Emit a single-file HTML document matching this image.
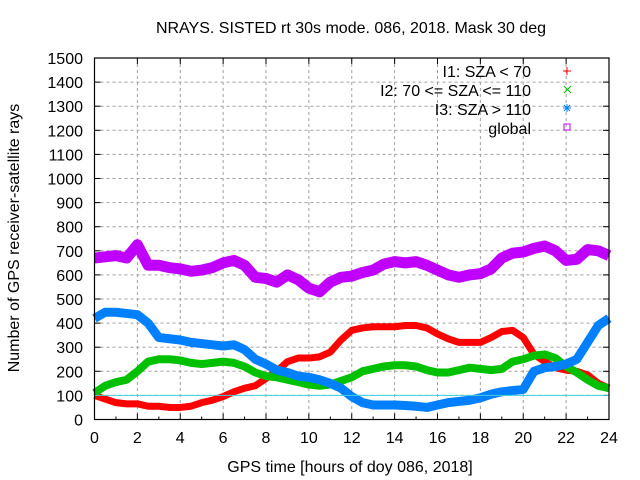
<!DOCTYPE html>
<html><head><meta charset="utf-8"><style>
body{margin:0;background:#fff}
svg{display:block;font-family:"Liberation Sans",sans-serif}
</style></head><body>
<svg id="chart" width="640" height="480">
<text x="351" y="33" text-anchor="middle" font-size="16">NRAYS. SISTED rt 30s mode. 086, 2018. Mask 30 deg</text>
<text x="350" y="472" text-anchor="middle" font-size="16">GPS time [hours of doy 086, 2018]</text>
<text transform="translate(19,238) rotate(-90)" text-anchor="middle" font-size="16">Number of GPS receiver-satellite rays</text>
<g id="plot"></g>
<g font-size="16" text-anchor="end">
<text x="531" y="77">I1: SZA &lt; 70</text>
<text x="531" y="96">I2: 70 &lt;= SZA &lt;= 110</text>
<text x="531" y="115">I3: SZA &gt; 110</text>
<text x="531" y="134">global</text>
<path d="M563,71h8M567,67v8" stroke="#ff0000"/>
<path d="M564,86l7,7M571,86l-7,7" stroke="#00c000"/>
<path d="M563,108h8M567,104v8M564,105l6,6M570,105l-6,6" stroke="#0080ff"/>
<rect x="564" y="124" width="6" height="6" fill="none" stroke="#c000ff"/>
</g>
</svg>
<script>
const hours=[0,0.5,1,1.5,2,2.5,3,3.5,4,4.5,5,5.5,6,6.5,7,7.5,8,8.5,9,9.5,10,10.5,11,11.5,12,12.5,13,13.5,14,14.5,15,15.5,16,16.5,17,17.5,18,18.5,19,19.5,20,20.5,21,21.5,22,22.5,23,23.5,24];
const globalVals=[670,675,680,670,725,640,640,630,625,615,620,630,650,660,640,590,585,570,600,580,545,530,570,590,595,610,620,645,655,650,655,640,620,600,590,600,605,625,670,690,695,710,720,700,660,665,705,700,680];
const i3Vals=[420,445,445,440,435,400,340,335,330,320,315,310,305,310,290,250,230,205,195,180,175,165,150,130,95,70,60,60,60,58,55,50,60,70,75,80,90,105,115,120,125,200,215,220,230,250,320,390,420];
const i2Vals=[110,140,155,165,200,240,250,250,245,235,230,235,240,235,220,195,180,175,165,155,145,140,145,160,175,200,210,220,225,225,220,205,195,195,205,215,210,205,210,240,250,265,270,255,220,195,165,140,130];
const i1Vals=[100,85,70,65,65,55,55,50,50,55,70,80,95,115,130,140,170,200,240,255,255,260,280,330,370,380,385,385,385,390,390,380,355,335,320,320,320,340,365,370,340,270,240,215,205,200,185,150,130];
const xTicks=[0,2,4,6,8,10,12,14,16,18,20,22,24];
const yTicks=[0,100,200,300,400,500,600,700,800,900,1000,1100,1200,1300,1400,1500];
const L=94.5,R=609,T=58,B=419.5;
const xs=h=>L+(R-L)*h/24, ys=v=>B-(B-T)*v/1500;
const svg=document.getElementById('plot');const NS='http://www.w3.org/2000/svg';
function mk(t,a,p){const e=document.createElementNS(NS,t);for(const k in a)e.setAttribute(k,a[k]);(p||svg).appendChild(e);return e;}
yTicks.forEach(v=>{if(v>0&&v<1500){const g=mk('line',{x1:L,x2:R,y1:ys(v),y2:ys(v),stroke:'#a0a0a0','stroke-dasharray':'3,3'});

}
const t=mk('text',{x:83,y:ys(v)+6,'text-anchor':'end','font-size':16});t.textContent=v;


mk('line',{x1:L,x2:L+6,y1:ys(v),y2:ys(v),stroke:'#000'});mk('line',{x1:R,x2:R-6,y1:ys(v),y2:ys(v),stroke:'#000'});});
xTicks.forEach(h=>{if(h>0&&h<24){const g=mk('line',{x1:xs(h),x2:xs(h),y1:T,y2:B,stroke:'#a0a0a0','stroke-dasharray':'3,3'});

}
const t=mk('text',{x:xs(h),y:443,'text-anchor':'middle','font-size':16});t.textContent=h;


mk('line',{x1:xs(h),x2:xs(h),y1:B,y2:B-6,stroke:'#000'});mk('line',{x1:xs(h),x2:xs(h),y1:T,y2:T+6,stroke:'#000'});
if(h<24){mk('line',{x1:xs(h+1),x2:xs(h+1),y1:B,y2:B-3,stroke:'#000'});}});
function series(vals,color,name,w){const p=mk('polyline',{points:vals.map((v,i)=>xs(hours[i])+','+ys(v)).join(' '),fill:'none',stroke:color,'stroke-width':w,'stroke-linejoin':'round'});

}
series(i1Vals,'#ff0000','series-i1',7);
series(i2Vals,'#00c000','series-i2',8);
series(i3Vals,'#0080ff','series-i3',9);
series(globalVals,'#c000ff','series-global',11);
mk('line',{x1:L,x2:R,y1:ys(100),y2:ys(100),stroke:'#40d0e0'});
mk('rect',{x:L,y:T,width:R-L,height:B-T,fill:'none',stroke:'#000','stroke-width':1.2});
</script>
</body></html>
